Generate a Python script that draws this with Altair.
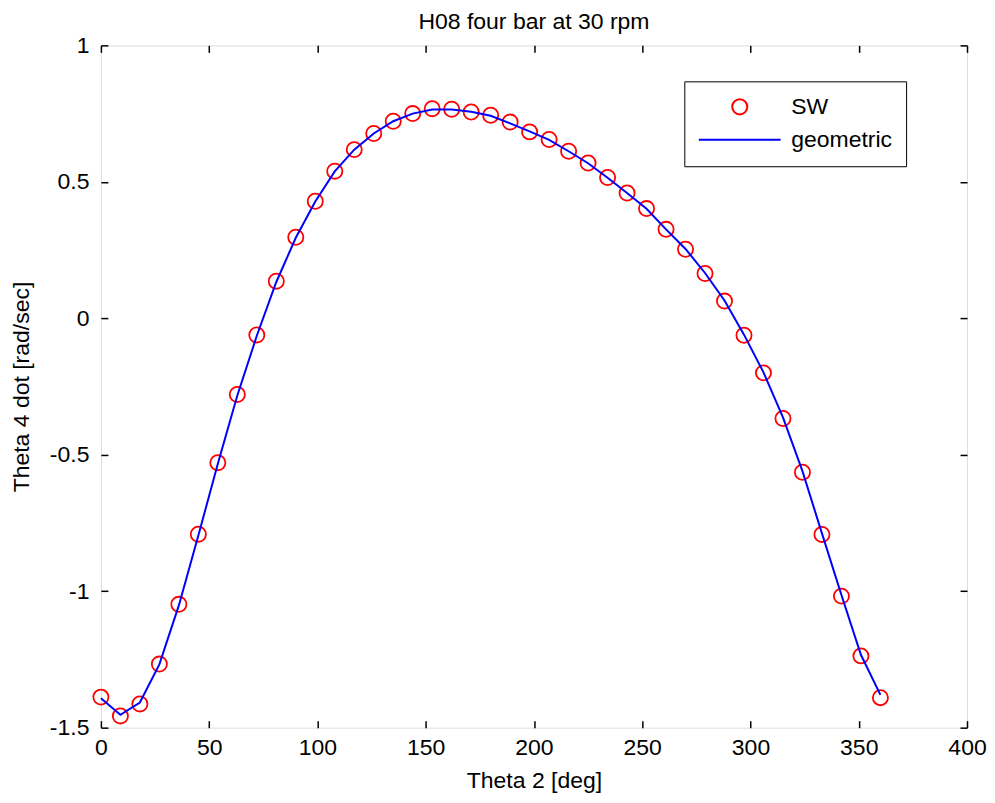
import altair as alt
import pandas as pd

# ---- data ----
theta2 = [0, 9, 18, 27, 36, 45, 54, 63, 72, 81, 90, 99, 108, 117, 126, 135, 144, 153,
          162, 171, 180, 189, 198, 207, 216, 225, 234, 243, 252, 261, 270, 279, 288,
          297, 306, 315, 324, 333, 342, 351, 360]
sw = [-1.388, -1.457, -1.413, -1.267, -1.048, -0.791, -0.529, -0.279, -0.061, 0.136,
      0.297, 0.429, 0.539, 0.618, 0.677, 0.722, 0.750, 0.768, 0.766, 0.756, 0.744,
      0.719, 0.683, 0.655, 0.612, 0.569, 0.516, 0.459, 0.402, 0.326, 0.253, 0.164,
      0.063, -0.062, -0.200, -0.367, -0.564, -0.792, -1.018, -1.237, -1.390]
geometric = [-1.392, -1.453, -1.408, -1.268, -1.052, -0.796, -0.533, -0.283, -0.064, 0.133,
             0.295, 0.428, 0.538, 0.618, 0.677, 0.722, 0.750, 0.765, 0.765, 0.757, 0.742,
             0.714, 0.685, 0.654, 0.612, 0.568, 0.515, 0.459, 0.401, 0.326, 0.254, 0.166,
             0.065, -0.060, -0.198, -0.363, -0.560, -0.788, -1.014, -1.233, -1.380]
x_ticks = [0, 50, 100, 150, 200, 250, 300, 350, 400]
y_ticks = [-1.5, -1, -0.5, 0, 0.5, 1]
series_names = ["SW", "geometric"]

df_sw = pd.DataFrame({"theta2": theta2, "value": sw, "series": "SW"})
df_geo = pd.DataFrame({"theta2": theta2, "value": geometric, "series": "geometric"})

FONT = "Liberation Sans"
FS = 23
W, H = 867, 683

xscale = alt.Scale(domain=[0, 400], nice=False, zero=False)
yscale = alt.Scale(domain=[-1.5, 1], nice=False, zero=False)

legend = alt.Legend(
    title=None, orient="none", legendX=584, legendY=36,
    padding=14, strokeColor="black", fillColor="white",
    symbolOffset=30, labelOffset=40, symbolSize=230, symbolStrokeWidth=2,
    labelFont=FONT, labelFontSize=FS, labelColor="black", rowPadding=9,
)

color = alt.Color("series:N",
                  scale=alt.Scale(domain=series_names, range=["#ff0000", "#0000ff"]),
                  legend=legend)
shape = alt.Shape("series:N",
                  scale=alt.Scale(domain=series_names, range=["circle", "M-5.4,0L5.4,0"]),
                  legend=legend)

common_axis = dict(
    tickSize=7, offset=-7, domain=False, grid=False, tickColor="black", tickWidth=1.5,
    labelFont=FONT, labelFontSize=FS, labelColor="black",
    titleFont=FONT, titleFontSize=FS, titleColor="black", titleFontWeight="normal",
    labelFlush=False, labelOverlap=False, labelExpr="'' + datum.value",
)

x_bottom = alt.X("theta2:Q", scale=xscale,
                 axis=alt.Axis(values=x_ticks, orient="bottom", labelPadding=9,
                               title="Theta 2 [deg]", titlePadding=10, **common_axis))
y_left = alt.Y("value:Q", scale=yscale,
               axis=alt.Axis(values=y_ticks, orient="left", labelPadding=12,
                             title="Theta 4 dot [rad/sec]", titlePadding=16, **common_axis))

points = alt.Chart(df_sw).mark_point(filled=False, size=230, strokeWidth=1.8, opacity=1).encode(
    x=x_bottom, y=y_left, color=color, shape=shape)

line = alt.Chart(df_geo).mark_line(strokeWidth=2).encode(
    x=alt.X("theta2:Q", scale=xscale, axis=None),
    y=alt.Y("value:Q", scale=yscale, axis=None),
    color=color)

frame_axis = dict(common_axis)
frame_axis.pop("labelExpr")
frame = alt.Chart(df_geo).mark_line(opacity=0).encode(
    x=alt.X("theta2:Q", scale=xscale,
            axis=alt.Axis(values=x_ticks, orient="top", labels=False, title=None, **frame_axis)),
    y=alt.Y("value:Q", scale=yscale,
            axis=alt.Axis(values=y_ticks, orient="right", labels=False, title=None, **frame_axis)))

chart = alt.layer(points, line, frame).resolve_axis(
    x="independent", y="independent"
).properties(
    width=W, height=H,
    title=alt.TitleParams("H08 four bar at 30 rpm", font=FONT, fontSize=FS,
                          fontWeight="normal", color="black", offset=0, anchor="middle"),
    autosize=alt.AutoSizeParams(type="none"),
    padding={"left": 93, "top": 37, "right": 20, "bottom": 72},
).configure_view(stroke="black", strokeWidth=2).configure(background="white")

chart.save("out.html", embed_options={"renderer": "svg", "actions": False})
